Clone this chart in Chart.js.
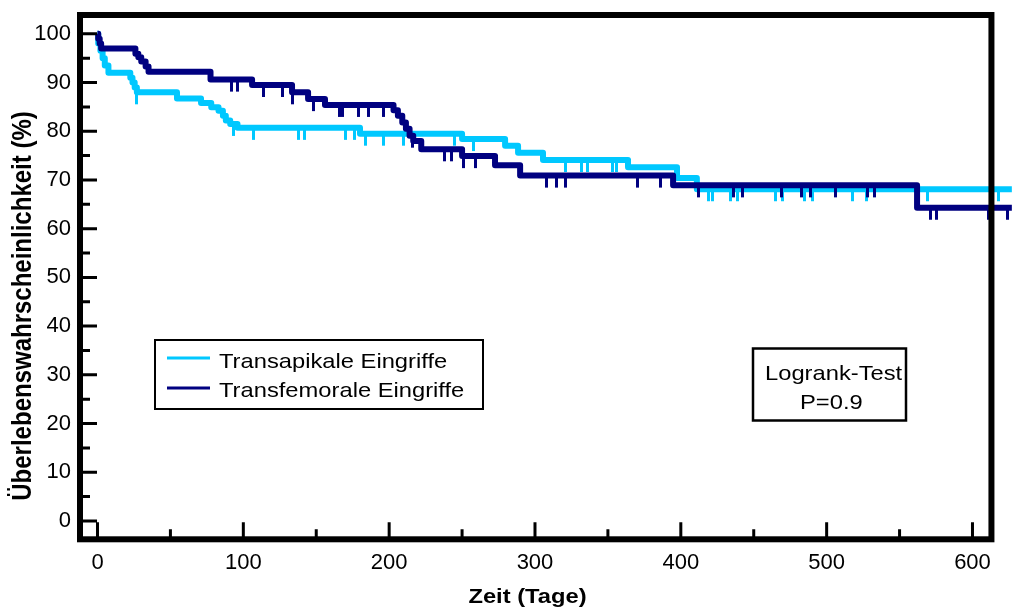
<!DOCTYPE html>
<html>
<head>
<meta charset="utf-8">
<script src="https://cdn.jsdelivr.net/npm/chart.js@4.4.1/dist/chart.umd.min.js"></script>
<style>
  html, body { margin: 0; padding: 0; background: #fff; }
  #wrap { width: 1012px; height: 610px; }
</style>
</head>
<body>
<div id="wrap"><canvas id="kmChart" width="1012" height="610"></canvas></div>
<script>
// Kaplan-Meier: Ueberleben nach TAVI, transapikal vs. transfemoral
const seriesNames = ["Transapikale Eingriffe", "Transfemorale Eingriffe"];

// Zeitpunkt (Tage) jedes Schritts und Ueberlebensrate (%) danach
const apikalTime = [0, 0.5, 2, 3.5, 5, 7.5, 22.5, 24, 25.5, 27, 54.5, 71, 78, 83, 86, 88, 91, 96, 180, 250, 279.5, 288.4, 305.5, 363.8, 397.4, 411, 627];
const apikalSurv = [100, 98, 96.5, 95, 93.5, 92, 91, 90, 89, 88, 86.7, 85.8, 84.9, 84.2, 83.2, 82.2, 81.5, 80.7, 79.5, 78.4, 77.0, 75.6, 74.1, 72.6, 70.4, 68.1, 68.1];
const apikalCensor = [27, 93, 107, 138, 142, 170, 176, 184, 196, 210, 245, 258, 321, 332, 336, 353, 356, 419, 422, 434, 439, 465, 470, 485, 490, 518, 527, 569, 618];

const femoralTime = [0, 0.5, 1.5, 2.5, 26, 28, 30, 33, 35, 77.5, 106, 133.4, 144.4, 156, 203, 206, 209, 211.5, 214, 216.5, 222, 250, 272.6, 289.8, 394.7, 562, 627];
const femoralSurv = [100, 99, 98, 97, 95.9, 95.2, 94.3, 93.3, 92.2, 90.6, 89.5, 88.0, 86.6, 85.4, 84.3, 83.2, 81.8, 80.5, 79.1, 78.0, 76.3, 74.9, 73.0, 70.9, 68.9, 64.3, 64.3];
const femoralCensor = [92, 96, 114, 127, 134, 148, 166, 168, 179, 186, 196, 216, 238, 243, 251, 259, 308, 315, 321, 370, 386, 412, 436, 442, 469, 483, 489, 506, 528, 533, 571, 575, 611, 624];

const xTickValues = [0, 100, 200, 300, 400, 500, 600];
const xMinorTicks = [50, 150, 250, 350, 450, 550];
const yTickValues = [0, 10, 20, 30, 40, 50, 60, 70, 80, 90, 100];
const yMinorTicks = [5, 15, 25, 35, 45, 55, 65, 75, 85, 95];

const CYAN = "#00c8ff";
const NAVY = "#000080";
const xFrameMax = 613;
const txtFont = "'Liberation Sans', Arial, sans-serif";
const sx = 1.13; // Schrift im Original horizontal gestreckt

function survAt(times, surv, t) {
  let v = surv[0];
  for (let i = 0; i < times.length; i++) if (times[i] <= t) v = surv[i];
  return v;
}

function censorMark(color) {
  const c = document.createElement("canvas");
  c.width = 3; c.height = 26;
  const g = c.getContext("2d");
  g.fillStyle = color;
  g.fillRect(0, 12, 3, 13);
  return c;
}

function stretchedText(ctx, text, x, y, font, align) {
  ctx.save();
  ctx.translate(x, y);
  ctx.scale(sx, 1);
  ctx.font = font;
  ctx.textAlign = align || "left";
  ctx.textBaseline = "alphabetic";
  ctx.fillText(text, 0, 0);
  ctx.restore();
}

const frameAndNotes = {
  id: "frameAndNotes",
  afterDraw(chart) {
    const { ctx, chartArea, scales: { x, y } } = chart;
    const left = chartArea.left, top = chartArea.top, bottom = chartArea.bottom;
    const right = x.getPixelForValue(xFrameMax);
    ctx.save();
    ctx.strokeStyle = "#000";
    ctx.fillStyle = "#000";
    ctx.lineWidth = 6;
    ctx.strokeRect(left, top, right - left, bottom - top);

    // Teilstriche nach innen
    ctx.lineWidth = 3;
    ctx.beginPath();
    xTickValues.forEach(v => { const p = x.getPixelForValue(v); ctx.moveTo(p, bottom); ctx.lineTo(p, bottom - 17); });
    xMinorTicks.forEach(v => { const p = x.getPixelForValue(v); ctx.moveTo(p, bottom); ctx.lineTo(p, bottom - 10); });
    yTickValues.forEach(v => { const p = y.getPixelForValue(v); ctx.moveTo(left, p); ctx.lineTo(left + 17, p); });
    yMinorTicks.forEach(v => { const p = y.getPixelForValue(v); ctx.moveTo(left, p); ctx.lineTo(left + 10, p); });
    ctx.stroke();

    // Achsentitel
    stretchedText(ctx, "Zeit (Tage)", 527.5, 603, "bold 21px " + txtFont, "center");
    ctx.save();
    ctx.translate(31, 306);
    ctx.scale(sx, 1);
    ctx.rotate(-Math.PI / 2);
    ctx.font = "bold 24px " + txtFont;
    ctx.textAlign = "center";
    ctx.fillText("Überlebenswahrscheinlichkeit (%)", 0, 0);
    ctx.restore();

    // Legende
    ctx.lineWidth = 2;
    ctx.strokeRect(155, 340, 328, 69);
    ctx.lineWidth = 3;
    ctx.strokeStyle = CYAN;
    ctx.beginPath(); ctx.moveTo(167, 358); ctx.lineTo(210, 358); ctx.stroke();
    ctx.strokeStyle = NAVY;
    ctx.beginPath(); ctx.moveTo(167, 388); ctx.lineTo(210, 388); ctx.stroke();
    stretchedText(ctx, seriesNames[0], 219, 367.5, "21px " + txtFont);
    stretchedText(ctx, seriesNames[1], 219, 396.5, "21px " + txtFont);

    // Logrank-Test
    ctx.strokeStyle = "#000";
    ctx.lineWidth = 2.5;
    ctx.strokeRect(753, 348.5, 153, 72);
    stretchedText(ctx, "Logrank-Test", 765, 379.5, "21px " + txtFont);
    stretchedText(ctx, "P=0.9", 800, 408.5, "21px " + txtFont);
    ctx.restore();
  }
};

function stepData(times, surv) {
  return times.map((t, i) => ({ x: t, y: surv[i] }));
}
function censorData(list, times, surv) {
  return list.map(t => ({ x: t, y: survAt(times, surv, t) }));
}

const ctx = document.getElementById("kmChart").getContext("2d");
new Chart(ctx, {
  type: "line",
  data: {
    datasets: [
      {
        label: seriesNames[1],
        data: stepData(femoralTime, femoralSurv),
        stepped: "before",
        borderColor: NAVY,
        borderWidth: 6,
        borderJoinStyle: "round",
        pointRadius: 0,
        fill: false,
        order: 0
      },
      {
        type: "scatter",
        label: seriesNames[1] + " zensiert",
        data: censorData(femoralCensor, femoralTime, femoralSurv),
        pointStyle: censorMark(NAVY),
        pointRadius: 5,
        showLine: false,
        order: 1
      },
      {
        label: seriesNames[0],
        data: stepData(apikalTime, apikalSurv),
        stepped: "before",
        borderColor: CYAN,
        borderWidth: 6,
        borderJoinStyle: "round",
        pointRadius: 0,
        fill: false,
        order: 2
      },
      {
        type: "scatter",
        label: seriesNames[0] + " zensiert",
        data: censorData(apikalCensor, apikalTime, apikalSurv),
        pointStyle: censorMark(CYAN),
        pointRadius: 5,
        showLine: false,
        order: 3
      }
    ]
  },
  options: {
    responsive: false,
    animation: false,
    devicePixelRatio: 1,
    layout: { autoPadding: false, padding: { top: 15, left: 0, right: 0, bottom: 0 } },
    plugins: { legend: { display: false }, tooltip: { enabled: false } },
    scales: {
      x: {
        type: "linear",
        min: -12,
        max: 627.1,
        grid: { display: false, drawTicks: false },
        border: { display: false },
        afterBuildTicks: s => { s.ticks = xTickValues.map(v => ({ value: v })); },
        afterFit: s => { s.height = 70.7; s.paddingLeft = 0; s.paddingRight = 0; s.paddingTop = 0; s.paddingBottom = 0; },
        ticks: { color: "#000", padding: 10, maxRotation: 0, font: { family: txtFont, size: 22 } }
      },
      y: {
        type: "linear",
        min: -3.76,
        max: 103.86,
        grid: { display: false, drawTicks: false },
        border: { display: false },
        afterBuildTicks: s => { s.ticks = yTickValues.map(v => ({ value: v })); },
        afterFit: s => { s.width = 80; s.paddingLeft = 0; s.paddingRight = 0; s.paddingTop = 0; s.paddingBottom = 0; },
        ticks: { color: "#000", padding: 9, font: { family: txtFont, size: 22 } }
      }
    }
  },
  plugins: [frameAndNotes]
});
</script>
</body>
</html>
